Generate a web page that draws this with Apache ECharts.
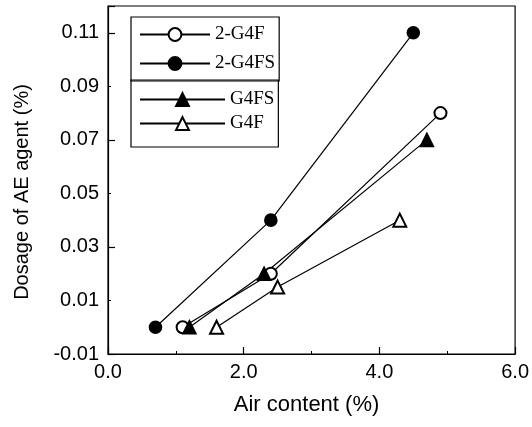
<!DOCTYPE html>
<html>
<head>
<meta charset="utf-8">
<script src="https://cdn.jsdelivr.net/npm/echarts@6/dist/echarts.min.js"></script>
<style>
  html, body { margin: 0; padding: 0; background: #fff; }
  #chart { width: 532px; height: 427px; }
</style>
</head>
<body>
<div id="chart"></div>
<script>
// 数据：空气含量 (%) 与引气剂掺量 (%)
const seriesNames = ['2-G4F', '2-G4FS', 'G4FS', 'G4F'];
const air2G4F = [1.1, 2.4, 4.9];
const dose2G4F = [0.0, 0.02, 0.08];
const air2G4FS = [0.7, 2.4, 4.5];
const dose2G4FS = [0.0, 0.04, 0.11];
const airG4FS = [1.2, 2.3, 4.7];
const doseG4FS = [0.0, 0.02, 0.07];
const airG4F = [1.6, 2.5, 4.3];
const doseG4F = [0.0, 0.015, 0.04];
const symbols = ['emptyCircle', 'circle', 'triangle', 'emptyTriangle'];

const pairs = (xs, ys) => xs.map((x, i) => [x, ys[i]]);
const allData = [
  pairs(air2G4F, dose2G4F),
  pairs(air2G4FS, dose2G4FS),
  pairs(airG4FS, doseG4FS),
  pairs(airG4F, doseG4F),
];

const myChart = echarts.init(document.getElementById('chart'));

const legendBase = {
  orient: 'vertical',
  left: 131,
  borderColor: '#000',
  borderWidth: 1.2,
  borderRadius: 0,
  itemHeight: 16,
  textStyle: { fontFamily: 'Liberation Serif', fontSize: 19, color: '#000' },
};

myChart.setOption({
  animation: false,
  grid: {
    left: 108, right: 13, top: 6, bottom: 73,
    show: true, borderColor: '#000', borderWidth: 1.2,
  },
  legend: [
    {
      ...legendBase,
      data: ['2-G4F', '2-G4FS'],
      top: 17,
      itemWidth: 70,
      itemGap: 10,
      padding: [8, 4, 8, 8],
    },
    {
      ...legendBase,
      data: ['G4FS', 'G4F'],
      top: 80,
      itemWidth: 85,
      itemGap: 5,
      padding: [10, 4, 14, 8],
    },
  ],
  xAxis: {
    type: 'value',
    min: 0,
    max: 6,
    interval: 2,
    name: 'Air content (%)',
    nameLocation: 'middle',
    nameGap: 40,
    nameTextStyle: {
      fontFamily: 'Liberation Sans', fontSize: 22, color: '#000',
      padding: [0, 10, 0, 0],
    },
    axisLine: { onZero: false, lineStyle: { color: '#000', width: 1.2 } },
    axisTick: { inside: true, length: 7, lineStyle: { color: '#000', width: 1.2 } },
    minorTick: { show: true, splitNumber: 2, length: 3, lineStyle: { color: '#000' } },
    splitLine: { show: false },
    axisLabel: {
      fontFamily: 'Liberation Sans', fontSize: 20, color: '#000', margin: 8,
      formatter: (v) => v.toFixed(1),
    },
  },
  yAxis: [
    {
      type: 'value',
      min: -0.01,
      max: 0.12,
      interval: 0.02,
      name: 'Dosage of AE agent (%)',
      nameLocation: 'middle',
      nameGap: 76,
      nameTextStyle: {
        fontFamily: 'Liberation Sans', fontSize: 20, color: '#000',
        padding: [0, 24, 0, 0],
      },
      axisLine: { onZero: false, lineStyle: { color: '#000', width: 1.2 } },
      axisTick: { show: false },
      splitLine: { show: false },
      axisLabel: {
        fontFamily: 'Liberation Sans', fontSize: 20, color: '#000', margin: 9,
        showMaxLabel: false,
        formatter: (v) => (Math.abs(v - 0.12) < 1e-6 ? '' : v.toFixed(2)),
      },
    },
    {
      type: 'value',
      position: 'left',
      min: -0.01,
      max: 0.12,
      interval: 0.04,
      axisLine: { show: false },
      axisTick: { inside: true, length: 7, lineStyle: { color: '#000', width: 1.2 } },
      minorTick: { show: true, splitNumber: 2, length: 3, lineStyle: { color: '#000' } },
      splitLine: { show: false },
      axisLabel: { show: false },
    },
  ],
  series: seriesNames.map((name, i) => ({
    name,
    type: 'line',
    data: allData[i],
    symbol: symbols[i],
    symbolSize: i >= 2 ? 13 : 12,
    lineStyle: { color: '#000', width: 1.2 },
    itemStyle: { color: '#000', borderColor: '#000', borderWidth: 1.6 },
  })),
});
</script>
</body>
</html>
